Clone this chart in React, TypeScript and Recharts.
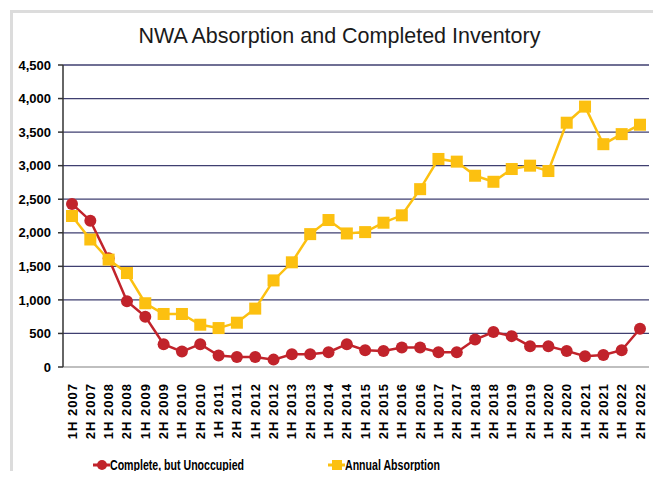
import { LineChart, Line, XAxis, YAxis, CartesianGrid } from "recharts";

const periods = [
    "1H 2007", "2H 2007", "1H 2008", "2H 2008", "1H 2009", "2H 2009", "1H 2010", "2H 2010",
    "1H 2011", "2H 2011", "1H 2012", "2H 2012", "1H 2013", "2H 2013", "1H 2014", "2H 2014",
    "1H 2015", "2H 2015", "1H 2016", "2H 2016", "1H 2017", "2H 2017", "1H 2018", "2H 2018",
    "1H 2019", "2H 2019", "1H 2020", "2H 2020", "1H 2021", "2H 2021", "1H 2022", "2H 2022",
];

const unoccupied = [
    2430, 2180, 1620, 980, 750, 340, 230, 340, 170, 150, 150, 110, 190, 190, 220, 340,
    250, 240, 290, 290, 220, 220, 410, 520, 460, 310, 310, 240, 160, 180, 250, 570,
];

const absorption = [
    2250, 1900, 1600, 1400, 950, 790, 790, 630, 580, 660, 870, 1290, 1560, 1980, 2190, 1990,
    2010, 2150, 2260, 2650, 3100, 3060, 2850, 2760, 2950, 3000, 2920, 3640, 3880, 3320, 3470, 3610,
];

const yTicks = [0, 500, 1000, 1500, 2000, 2500, 3000, 3500, 4000, 4500];

const RED = "#c1232b";
const YELLOW = "#fcc010";
const FONT = "'Liberation Sans', Arial, sans-serif";

const data = periods.map((p, i) => ({ period: p, unoccupied: unoccupied[i], absorption: absorption[i] }));

function PeriodTick({ x, y, payload }: any) {
    return (
        <text
            x={x}
            y={y}
            transform={`rotate(-90, ${x}, ${y})`}
            dx={-8}
            dy={4.5}
            textAnchor="end"
            fontSize={13}
            fontWeight="bold"
            letterSpacing={1}
            fontFamily={FONT}
            fill="#000"
        >
            {payload.value}
        </text>
    );
}

function SquareDot({ cx, cy, index }: any) {
    return <rect key={`sq-${index}`} x={cx - 6} y={cy - 6} width={12} height={12} fill={YELLOW} />;
}

function LegendItem({ left, label, square, color }: { left: number; label: string; square: boolean; color: string }) {
    return (
        <div style={{ position: "absolute", left, top: 455, display: "flex", alignItems: "center", height: 20 }}>
            <svg width={17} height={20}>
                <line x1={0} y1={10} x2={17} y2={10} stroke={color} strokeWidth={3} />
                {square ? (
                    <rect x={4} y={5} width={10} height={10} fill={color} />
                ) : (
                    <circle cx={9} cy={10} r={5} fill={color} />
                )}
            </svg>
            <span
                style={{
                    display: "inline-block",
                    fontFamily: FONT,
                    fontWeight: "bold",
                    fontSize: 14.5,
                    transform: "scaleX(0.73)",
                    transformOrigin: "left center",
                    whiteSpace: "nowrap",
                    color: "#000",
                }}
            >
                {label}
            </span>
        </div>
    );
}

export default function App() {
    return (
        <div style={{ position: "relative", margin: -8, width: 661, height: 479, overflow: "hidden", background: "#fff" }}>
            <div
                style={{
                    position: "absolute",
                    left: 10,
                    top: 10,
                    width: 648,
                    height: 480,
                    border: "3px solid #dcdcdc",
                    boxSizing: "border-box",
                }}
            />
            <div
                style={{
                    position: "absolute",
                    left: 0,
                    width: 661,
                    top: 24,
                    textAlign: "center",
                    fontFamily: FONT,
                    fontSize: 21.5,
                    color: "#1a1a1a",
                    paddingLeft: 18,
                    boxSizing: "border-box",
                }}
            >
                NWA Absorption and Completed Inventory
            </div>
            <div style={{ position: "absolute", left: 0, top: 0 }}>
                <LineChart width={661} height={479} data={data} margin={{ top: 65, right: 12, bottom: 42, left: 8 }}>
                    <CartesianGrid vertical={false} stroke="#3f3f70" strokeWidth={1.3} />
                    <XAxis
                        dataKey="period"
                        interval={0}
                        height={70}
                        padding={{ left: 9, right: 9 }}
                        tick={<PeriodTick />}
                        tickLine={false}
                        axisLine={{ stroke: "#bfbfbf", strokeWidth: 2 }}
                    />
                    <YAxis
                        domain={[0, 4500]}
                        ticks={yTicks}
                        width={55}
                        tickSize={5}
                        tickMargin={7}
                        tickFormatter={(v: number) => v.toLocaleString("en-US")}
                        tick={{ fontSize: 13, fontWeight: "bold", fill: "#000", fontFamily: FONT }}
                        axisLine={{ stroke: "#333", strokeWidth: 1.5 }}
                        tickLine={{ stroke: "#333", strokeWidth: 1.5 }}
                    />
                    <Line
                        dataKey="unoccupied"
                        name="Complete, but Unoccupied"
                        stroke={RED}
                        strokeWidth={2.5}
                        dot={{ r: 6, fill: RED, stroke: RED, strokeWidth: 0 }}
                        activeDot={false}
                        isAnimationActive={false}
                    />
                    <Line
                        dataKey="absorption"
                        name="Annual Absorption"
                        stroke={YELLOW}
                        strokeWidth={2.5}
                        dot={<SquareDot />}
                        activeDot={false}
                        isAnimationActive={false}
                    />
                </LineChart>
            </div>
            <LegendItem left={93} label="Complete, but Unoccupied" square={false} color={RED} />
            <LegendItem left={328} label="Annual Absorption" square={true} color={YELLOW} />
        </div>
    );
}
